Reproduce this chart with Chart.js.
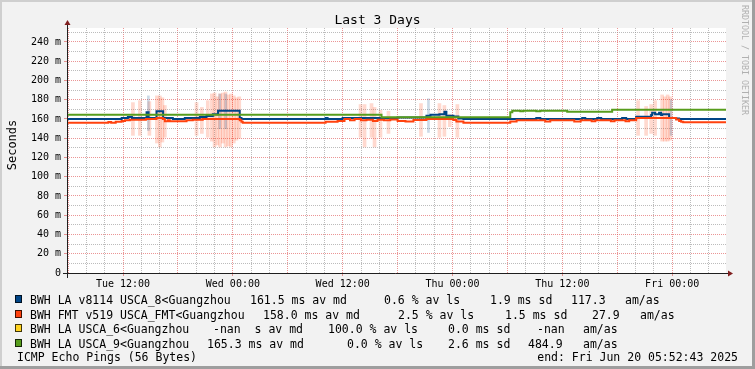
<!DOCTYPE html>
<html><head><meta charset="utf-8">
<script src="https://cdn.jsdelivr.net/npm/chart.js@4.4.1/dist/chart.umd.min.js"></script>
<style>
html,body{margin:0;padding:0;background:#f2f2f2;}
#wrap{position:relative;width:755px;height:369px;overflow:hidden;background:#f2f2f2;font-family:'DejaVu Sans Mono',monospace;color:#000;}
#c{position:absolute;left:0;top:0;}
.t{position:absolute;white-space:pre;font-size:11.5px;line-height:14px;}
.sw{position:absolute;width:7px;height:8px;box-sizing:border-box;border:1px solid rgba(0,0,0,0.75);}
.bd{position:absolute;}
</style></head>
<body><div id="wrap"><canvas id="c" width="755" height="369"></canvas></div>
<script>
// ---- data (x = hours since Tue 00:00; y = milliseconds) ----
const xStart = 5.878, xEnd = 77.878;
const xGridHours = [6,8,10,12,14,16,18,20,22,24,26,28,30,32,34,36,38,40,42,44,46,48,50,52,54,56,58,60,62,64,66,68,70,72,74,76];
const xTickHours = [12,24,36,48,60,72];
const xTickLabels = ['Tue 12:00','Wed 00:00','Wed 12:00','Thu 00:00','Thu 12:00','Fri 00:00'];
const yTickValues = [0,10,20,30,40,50,60,70,80,90,100,110,120,130,140,150,160,170,180,190,200,210,220,230,240,250];

const blueT = [5.88,11.85,12.53,12.97,14.57,14.79,15.66,16.38,17.44,18.75,20.39,21.12,21.81,22.38,24.75,24.94,34.13,34.35,35.99,41.99,45.15,45.59,46.57,47.11,47.33,48.10,48.64,49.19,57.15,57.59,62.17,62.5,63.81,64.24,66.53,66.97,68.06,69.70,69.81,70.13,70.57,70.79,70.90,71.66,72.43,72.76,77.88];
const blueV = [160,161,162,161,167,161,168,161,160,161,162,163,165,168.5,161,160,161,160,161,161.4,163.4,164.5,165,167.6,163.4,162.5,160.5,160,161,160,161,160,161,160,161,160,162.4,164,166.5,165,166.5,164,165,161,160.5,160,160];

const orangeT = [5.88,10.4,10.7,11.2,11.85,12.21,12.75,14.5,15.66,16.35,16.57,16.9,17.11,18.94,19.62,20.71,24.75,24.94,25.08,34.13,35.44,36.2,36.8,37.3,38.0,38.6,39.3,39.8,40.5,41.2,42.0,42.86,43.73,45.15,48.10,48.42,49.19,54.31,55.0,58.13,58.68,61.3,62.0,63.2,63.6,65.3,65.7,66.9,67.3,68.06,72.43,72.76,72.98,73.2,77.88];
const orangeV = [156,156.8,156,157,158,158.6,159.3,160,161,160,157.6,158.6,157.6,158.6,159.3,160,158.6,157,156,157,158,160,158.6,160,158.6,159.3,158,159.3,158.6,159.5,158,157.5,159,160,159,157.5,156,157.5,158.6,157.5,158.6,157.5,158.6,157.6,158.6,157.6,158.6,157.6,158.6,161,159.5,158,157,156.5,156.5];

const greenT = [5.88,40.24,54.31,54.53,55.41,55.73,57.15,57.59,60.53,65.44,77.88];
const greenV = [164.4,161.8,166.9,168.6,168,168.6,168,168.6,167.6,169.6,169.6];

const smokeT  = [13.08,13.84,14.88,15.70,16.02,16.30,16.57,20.03,20.61,21.26,21.70,22.00,22.30,22.60,22.90,23.20,23.50,23.80,24.10,24.40,24.70,37.95,38.39,39.15,39.48,40.13,41.00,44.55,46.57,47.11,47.70,48.53,68.27,69.15,69.70,70.13,70.90,71.20,71.50,71.77];
const smokeLo = [143,143,143,135,131,136,141,143,145,141,137,131,133,131,135,131,132,131,135,138,140,141,131,141,131,141,145,142,141,142,152,141,143,143,145,143,137,137,137,138];
const smokeHi = [177,179,178,184,184,182,174,177,172,179,186,187,183,186,187,188,185,186,184,182,183,175,175,176,172,169,168,176,176,174,165,175,179,173,175,179,185,183,185,183];

const graySmokeT  = [14.77,22.57,23.22,45.37,71.88];
const graySmokeLo = [148,150,150,146,143];
const graySmokeHi = [184,186,186,181,180];

// ---- overlay text ----
const wrap = document.getElementById('wrap');
function addDiv(cls, style, text){ const d=document.createElement('div'); d.className=cls; Object.assign(d.style, style); if(text!==undefined) d.textContent=text; wrap.appendChild(d); return d; }
addDiv('bd',{left:'0px',top:'0px',width:'755px',height:'2px',background:'#cfcfcf'});
addDiv('bd',{left:'0px',top:'0px',width:'2px',height:'369px',background:'#cfcfcf'});
addDiv('bd',{left:'752px',top:'0px',width:'3px',height:'369px',background:'#9e9e9e'});
addDiv('bd',{left:'0px',top:'366px',width:'755px',height:'3px',background:'#9e9e9e'});
addDiv('t',{left:'0px',top:'12px',width:'755px',textAlign:'center',fontSize:'13px',lineHeight:'15px'},'Last 3 Days');
addDiv('t',{left:'-28.5px',top:'138px',width:'80px',textAlign:'center',fontSize:'12px',lineHeight:'14px',transform:'rotate(-90deg)'},'Seconds');
addDiv('t',{left:'740px',top:'5px',fontSize:'8.3px',lineHeight:'10px',writingMode:'vertical-rl',color:'#b0b0b0'},'RRDTOOL / TOBI OETIKER');

const legendRows = [
  {color:'#004586', base:304, segs:[[30,'BWH LA v8114 USCA_8<Guangzhou'],[250,'161.5 ms av md'],[384,'0.6 % av ls'],[490,'1.9 ms sd'],[571,'117.3'],[625,'am/as']]},
  {color:'#ff420e', base:318.5, segs:[[30,'BWH FMT v519 USCA_FMT<Guangzhou'],[263,'158.0 ms av md'],[398,'2.5 % av ls'],[505,'1.5 ms sd'],[592,'27.9'],[640,'am/as']]},
  {color:'#ffd320', base:333, segs:[[30,'BWH LA USCA_6<Guangzhou'],[213,'-nan  s av md'],[328,'100.0 % av ls'],[448,'0.0 ms sd'],[537,'-nan'],[583,'am/as']]},
  {color:'#579d1c', base:347.5, segs:[[30,'BWH LA USCA_9<Guangzhou'],[207,'165.3 ms av md'],[347,'0.0 % av ls'],[448,'2.6 ms sd'],[528,'484.9'],[583,'am/as']]},
  {color:null, base:361, segs:[[17,'ICMP Echo Pings (56 Bytes)']]}
];
legendRows.forEach(r=>{
  if(r.color) addDiv('sw',{left:'15px',top:(r.base-9)+'px',background:r.color});
  r.segs.forEach(s=>addDiv('t',{left:s[0]+'px',top:(r.base-11)+'px'},s[1]));
});
addDiv('t',{right:'17px',top:(361-11)+'px',textAlign:'right'},'end: Fri Jun 20 05:52:43 2025');

// ---- chart ----
const GRID = 'rgba(143,143,143,0.6)';
const MGRID = 'rgba(222,79,79,0.6)';
const frame = {
  id:'frame',
  beforeDraw(chart){
    const {ctx, chartArea:a} = chart;
    ctx.save(); ctx.fillStyle='#ffffff';
    ctx.fillRect(a.left, a.top, a.right-a.left, a.bottom-a.top);
    ctx.restore();
  },
  afterDraw(chart){
    const {ctx, chartArea:a} = chart;
    const x0 = Math.round(a.left)+0.5, y0 = Math.round(a.bottom)+0.5;
    ctx.save();
    ctx.strokeStyle='#1f1f1f'; ctx.lineWidth=1; ctx.setLineDash([]);
    ctx.beginPath();
    ctx.moveTo(x0, a.bottom+5); ctx.lineTo(x0, a.top-3);
    ctx.moveTo(a.left-4, y0); ctx.lineTo(a.right+2, y0);
    ctx.stroke();
    ctx.fillStyle='#801f1f';
    ctx.beginPath(); ctx.moveTo(x0, a.top-8); ctx.lineTo(x0-3, a.top-3); ctx.lineTo(x0+3, a.top-3); ctx.closePath(); ctx.fill();
    ctx.beginPath(); ctx.moveTo(a.right+7, y0); ctx.lineTo(a.right+2, y0-3); ctx.lineTo(a.right+2, y0+3); ctx.closePath(); ctx.fill();
    ctx.restore();
  }
};
const xy = (T,V)=>T.map((t,i)=>({x:t,y:V[i]}));
const rng = (T,L,H)=>T.map((t,i)=>({x:t,y:[L[i],H[i]]}));
Chart.defaults.font.family = "'DejaVu Sans Mono', monospace";
new Chart(document.getElementById('c'), {
  type:'line',
  data:{datasets:[
    {type:'line', label:'BWH LA USCA_9<Guangzhou', data:xy(greenT,greenV), borderColor:'#579d1c', borderWidth:2, stepped:'before', pointRadius:0, order:1},
    {type:'line', label:'BWH FMT v519 USCA_FMT<Guangzhou', data:xy(orangeT,orangeV), borderColor:'#ff420e', borderWidth:2, stepped:'before', pointRadius:0, order:2},
    {type:'line', label:'BWH LA v8114 USCA_8<Guangzhou', data:xy(blueT,blueV), borderColor:'#004586', borderWidth:2, stepped:'before', pointRadius:0, order:3},
    {type:'bar', label:'smoke8', data:rng(graySmokeT,graySmokeLo,graySmokeHi), backgroundColor:'rgba(0,69,134,0.2)', barThickness:2, grouped:false, order:8},
    {type:'bar', label:'smokeFMT', data:rng(smokeT,smokeLo,smokeHi), backgroundColor:'rgba(255,66,14,0.2)', barThickness:3, grouped:false, order:9}
  ]},
  options:{
    responsive:false, animation:false, devicePixelRatio:1,
    layout:{padding:{left:0,top:28,right:29,bottom:0}},
    plugins:{legend:{display:false}, tooltip:{enabled:false}, title:{display:false}},
    scales:{
      x:{type:'linear', min:xStart, max:xEnd, offset:false,
        afterFit(s){ s.height = 96; },
        afterBuildTicks(s){ s.ticks = xGridHours.map(v=>({value:v})); },
        grid:{offset:false, color:c=> (c.tick && c.tick.value%6===0) ? MGRID : GRID, lineWidth:1, drawTicks:true, tickLength:3,
              tickColor:c=> (c.tick && c.tick.value%12===0) ? MGRID : 'rgba(0,0,0,0)'},
        border:{display:false, dash:[1,1]},
        ticks:{autoSkip:false, maxRotation:0, minRotation:0, padding:2, color:'#000', font:{size:10},
          callback:v=>{ const i = xTickHours.indexOf(v); return i>=0 ? xTickLabels[i] : ''; }}
      },
      y:{type:'linear', min:0, max:254.5,
        afterFit(s){ s.width = 67; },
        afterBuildTicks(s){ s.ticks = yTickValues.map(v=>({value:v})); },
        grid:{color:c=> (c.tick && c.tick.value%20===0) ? MGRID : GRID, lineWidth:1, drawTicks:true, tickLength:3,
              tickColor:c=> (c.tick && c.tick.value%20===0) ? MGRID : 'rgba(0,0,0,0)'},
        border:{display:false, dash:[1,1]},
        ticks:{autoSkip:false, padding:3, color:'#000', font:{size:10},
          callback:v=> v%20===0 ? (v===0 ? '0' : v+' m') : ''}
      }
    }
  },
  plugins:[frame]
});
</script>
</body></html>
